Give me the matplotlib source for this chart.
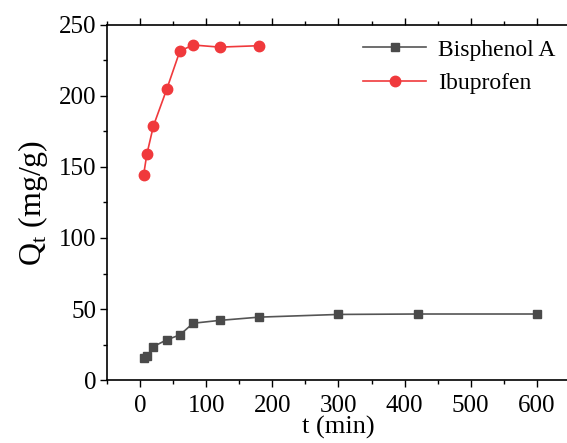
import matplotlib.pyplot as plt
from matplotlib.ticker import MultipleLocator

plt.rcParams["font.family"] = ["Liberation Serif", "DejaVu Serif"]
plt.rcParams["mathtext.fontset"] = "custom"
plt.rcParams["mathtext.rm"] = "Liberation Serif"

t_bpa = [5, 10, 20, 40, 60, 80, 120, 180, 300, 420, 600]
q_bpa = [15.2, 16.8, 23.6, 28.3, 31.8, 40.0, 42.0, 44.3, 46.2, 46.5, 46.5]

t_ibu = [5, 10, 20, 40, 60, 80, 120, 180]
q_ibu = [144.0, 158.8, 178.9, 204.5, 231.5, 235.8, 234.3, 235.3]

fig = plt.figure(figsize=(5.67, 4.43), dpi=100)
ax = fig.add_axes([0.189, 0.142, 0.816, 0.802])

ax.plot(t_bpa, q_bpa, color="#555555", marker="s", markersize=6,
        markerfacecolor="#4a4a4a", markeredgecolor="#4a4a4a", lw=1.2,
        label="Bisphenol A")
ax.plot(t_ibu, q_ibu, color="#f0393c", marker="o", markersize=7.5,
        lw=1.2, label="Ibuprofen")

ax.set_xlim(-50, 650)
ax.set_ylim(0, 250)
ax.xaxis.set_major_locator(MultipleLocator(100))
ax.xaxis.set_minor_locator(MultipleLocator(50))
ax.yaxis.set_major_locator(MultipleLocator(50))
ax.yaxis.set_minor_locator(MultipleLocator(25))
ax.tick_params(which="both", direction="out", labelsize=18, width=1)
ax.tick_params(which="major", length=5)
ax.tick_params(which="minor", length=3)
ax.tick_params(axis="x", top=True, which="both", pad=6)
ax.tick_params(axis="y", pad=3)
for s in ax.spines.values():
    s.set_linewidth(1.2)

ax.set_xlabel("t (min)", fontsize=19, labelpad=-1)
ax.set_ylabel("Q$_\\mathrm{t}$ (mg/g)", fontsize=23, labelpad=6)

ax.legend(loc="upper right", frameon=False, fontsize=17, handlelength=2.7,
          bbox_to_anchor=(1.0, 1.0), borderaxespad=0.2, labelspacing=0.5,
          handletextpad=0.5)

fig.savefig("out.png", dpi=100)
